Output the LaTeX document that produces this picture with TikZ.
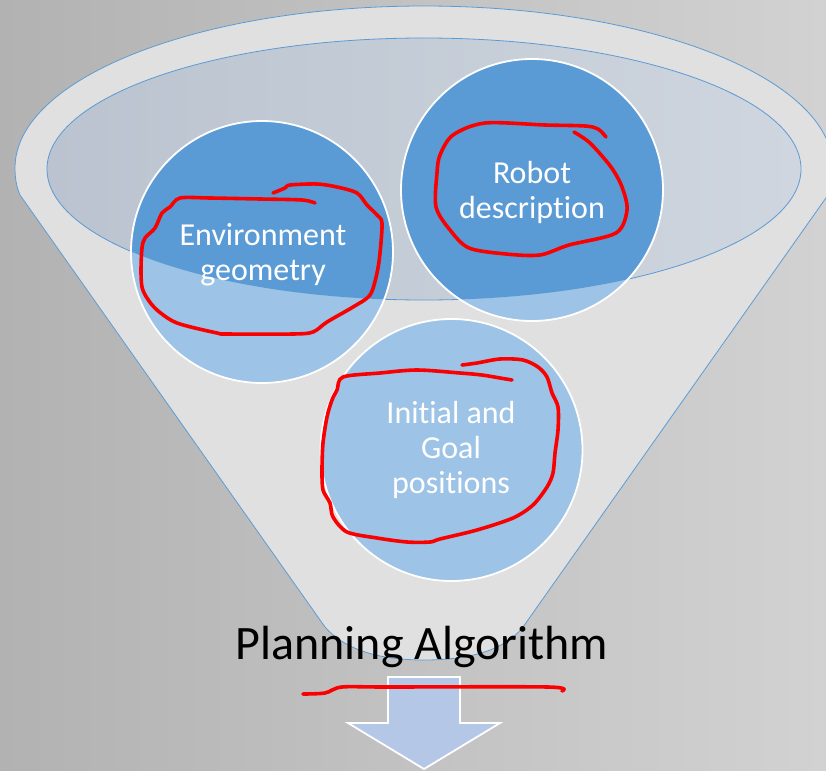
\documentclass[tikz,border=0pt]{standalone}
\usepackage{fontspec}
\setmainfont{Carlito}[Ligatures=CommonOff]
\usetikzlibrary{shapes.geometric}
\definecolor{darkblue}{RGB}{91,155,213}
\definecolor{lightblue}{RGB}{157,195,230}
\definecolor{funnelgray}{RGB}{224,224,224}
\definecolor{edgeblue}{RGB}{91,155,213}
\definecolor{arrowblue}{RGB}{180,199,231}
\definecolor{bgleft}{RGB}{178,178,178}
\definecolor{bgright}{RGB}{210,210,210}
\definecolor{elleft}{RGB}{186,195,207}
\definecolor{elright}{RGB}{207,214,223}
\definecolor{penred}{RGB}{250,0,0}
\tikzset{
  circbox/.style={circle, minimum size=262pt, inner sep=0pt},
  circtext/.style={text=white, align=center, font=\fontsize{32}{35}\selectfont},
  pen/.style={penred, line width=3.6pt, line cap=round, line join=round},
  outline/.style={draw=edgeblue, line width=0.8pt}
}
\begin{document}
\begin{tikzpicture}[x=1pt,y=-1pt]
\useasboundingbox (0,0) rectangle (826,770);
\shade[left color=bgleft, right color=bgright] (0,0) rectangle (826,770);
% funnel body
\begin{scope}
\clip (0,0) rectangle (826,770);
\path[fill=funnelgray, outline]
  (15,168) arc[start angle=180, end angle=360, x radius=409, y radius=162]
  .. controls (833,180) and (831,188) .. (828,195)
  -- (523,627)
  .. controls (505,650) and (470,660) .. (424,660)
  .. controls (380,660) and (345,650) .. (325,627)
  -- (20,195)
  .. controls (17,188) and (15,180) .. (15,168) -- cycle;
\end{scope}
% opening
\shade[left color=elleft, right color=elright] (424,169) ellipse[x radius=377, y radius=131];
\draw[outline] (424,169) ellipse[x radius=377, y radius=131];
% circles
\node[circbox, fill=lightblue] (env) at (262,252) {};
\node[circbox, fill=lightblue] (robot) at (532,190) {};
\node[circbox, fill=lightblue] (init) at (451.5,450) {};
\begin{scope}
\clip (424,169) ellipse[x radius=377, y radius=131];
\fill[darkblue] (env.center) circle[radius=131];
\fill[darkblue] (robot.center) circle[radius=131];
\fill[darkblue] (init.center) circle[radius=131];
\end{scope}
\draw[white, line width=1.8pt] (env.center) circle[radius=131];
\draw[white, line width=1.8pt] (robot.center) circle[radius=131];
\draw[white, line width=1.8pt] (init.center) circle[radius=131];
\node[circtext] (envt) at (263,255) {Environment\\geometry};
\node[circtext] (robt) at (532,192) {Robot\\description};
\node[circtext] (initt) at (451,450) {Initial and\\Goal\\positions};
% title
\node[font=\fontsize{48}{58}\selectfont, text=black] (title) at (422,647) {Planning Algorithm};
% arrow
\path[fill=arrowblue, draw=white, line width=1.8pt, line join=miter]
  (388,677) -- (460,677) -- (460,723) -- (500,723) -- (424,769) -- (348,723) -- (388,723) -- cycle;
% red annotations
\draw[pen] plot[smooth, tension=0.5] coordinates {
 (315,203) (302,200) (260,199) (210,198) (180,198) (170,207) (162,213) (155,228)
 (145,238) (142,248) (141,270) (142,287) (147,298) (157,310) (177,323) (217,333)
 (227,334) (293,334) (313,332) (327,322) (353,307) (370,295) (377,273) (380,253)
 (382,223) (377,215) (367,205) (357,193) (337,187) (317,184) (290,185) (285,188) (273,193)};
\draw[pen] plot[smooth, tension=0.5] coordinates {
 (606,137) (598,129) (585,126) (545,125) (485,123) (453,135) (440,155) (437,173) (436,207)
 (450,230) (469,248) (506,254) (540,255) (569,245) (616,233) (627,210) (622,187)
 (611,167) (590,143) (574,132)};
\draw[pen] plot[smooth, tension=0.5] coordinates {
 (512,380) (500,378) (482,375) (460,373) (417,370) (380,373) (343,377) (337,390)
 (332,400) (327,417) (323,443) (322,470) (323,490) (330,503) (333,517) (347,532)
 (377,538) (407,542) (430,542) (440,539) (477,530) (513,518) (533,505) (547,487)
 (553,473) (555,453) (558,430) (558,407) (552,393) (547,377) (538,367) (523,360)
 (500,359) (477,363) (462,365)};
\draw[pen] plot[smooth, tension=0.5] coordinates {
 (303,694) (325,693) (342,687) (387,687) (548,687) (562,691)};
\end{tikzpicture}
\end{document}
